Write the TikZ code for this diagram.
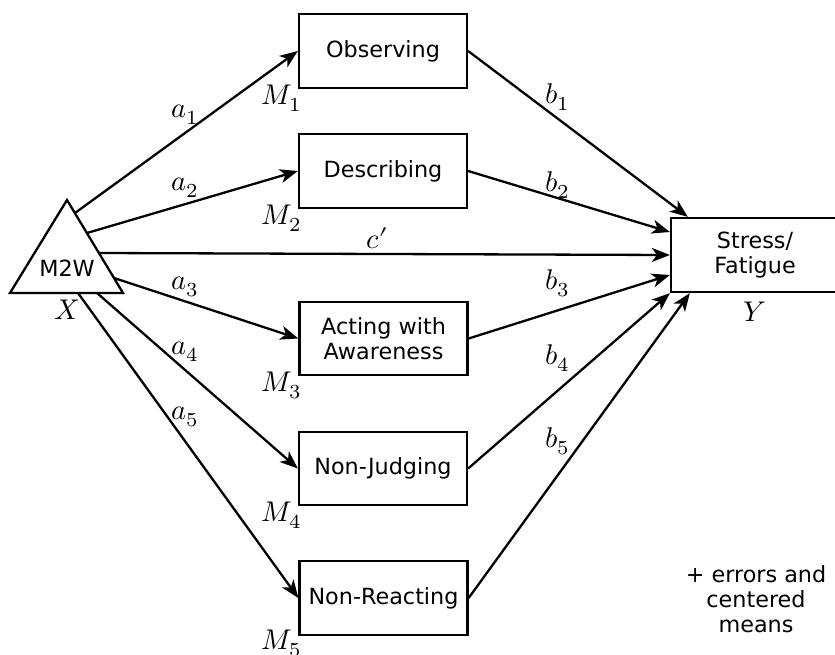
\documentclass[tikz,border=0pt]{standalone}
\usepackage{fontspec}
\usepackage{unicode-math}
\setmathfont{Latin Modern Math}
\setsansfont{DejaVu Sans}
\usetikzlibrary{arrows.meta,calc}
\newcommand{\mlab}[1]{\scalebox{2.85}{$#1$}}
\begin{document}
\begin{tikzpicture}[x=1pt,y=-1pt,
  box/.style={draw, line width=2.3pt, minimum width=168pt, minimum height=74pt, inner sep=0pt, align=center, font=\sffamily\fontsize{22.3}{25}\selectfont},
  conn/.style={line width=2.3pt, -{Stealth[length=18pt,width=14pt,inset=5pt]}},
  lab/.style={inner sep=0pt},
  txt/.style={font=\sffamily\fontsize{22.3}{25}\selectfont, align=center, inner sep=0pt}]
\useasboundingbox (0,0) rectangle (835,655);
% exogenous variable (triangle)
\coordinate (tA) at (67,200);
\coordinate (tR) at (123,293);
\coordinate (tL) at (10,293);
\draw[line width=2.3pt, line join=miter] (tA) -- (tR) -- (tL) -- cycle;
\node[txt] (X) at (67,268) {M2W};
\coordinate (s1) at (75,213);
\coordinate (s2) at (87,233);
\coordinate (s3) at (99,253);
\coordinate (s4) at (114,278);
\coordinate (s5) at (97,293);
\coordinate (s6) at (78,293);
% mediators
\node[box] (M1) at (383,51) {Observing};
\node[box] (M2) at (383,171) {Describing};
\node[box, minimum height=73pt] (M3) at (383.5,338.5) {Acting with\\Awareness};
\node[box, minimum height=73pt] (M4) at (383,468.5) {Non-Judging};
\node[box] (M5) at (383.5,598) {Non-Reacting};
% outcome
\node[box] (Y) at (755,255) {Stress/\\Fatigue};
% a paths
\draw[conn] (s1) -- (M1.west);
\draw[conn] (s2) -- (M2.west);
\draw[conn] (s3) -- (Y.west);
\draw[conn] (s4) -- (M3.west);
\draw[conn] (s5) -- (M4.west);
\draw[conn] (s6) -- (M5.west);
% b paths
\draw[conn] (M1.east) -- ($(Y.north west)+(18,0)$);
\draw[conn] (M2.east) -- ($(Y.west)+(0,-23)$);
\draw[conn] (M3.east) -- ($(Y.west)+(0,20)$);
\draw[conn] (M4.east) -- (Y.south west);
\draw[conn] (M5.east) -- ($(Y.south west)+(20,0)$);
% labels
\node[lab] (la1) at (185,115) {\mlab{a_1}};
\node[lab] (la2) at (185,188) {\mlab{a_2}};
\node[lab] (lc) at (378,238) {\mlab{c'}};
\node[lab] (la3) at (185,287) {\mlab{a_3}};
\node[lab] (la4) at (185,352) {\mlab{a_4}};
\node[lab] (la5) at (185,417) {\mlab{a_5}};
\node[lab] (lb1) at (558,97) {\mlab{b_1}};
\node[lab] (lb2) at (558,185) {\mlab{b_2}};
\node[lab] (lb3) at (558,283) {\mlab{b_3}};
\node[lab] (lb4) at (558,358) {\mlab{b_4}};
\node[lab] (lb5) at (558,441) {\mlab{b_5}};
\node[lab] (lM1) at (282,98) {\mlab{M_1}};
\node[lab] (lM2) at (282,218) {\mlab{M_2}};
\node[lab] (lM3) at (282,385) {\mlab{M_3}};
\node[lab] (lM4) at (282,515) {\mlab{M_4}};
\node[lab] (lM5) at (282,643) {\mlab{M_5}};
\node[lab] (lX) at (67,310) {\mlab{X}};
\node[lab] (lY) at (755,312) {\mlab{Y}};
\node[txt] (note) at (756,599) {+ errors and\\centered\\means};
\end{tikzpicture}
\end{document}
